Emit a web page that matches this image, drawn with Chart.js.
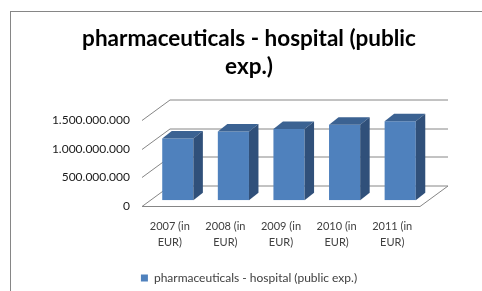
<!DOCTYPE html>
<html>
<head>
<meta charset="utf-8">
<script src="https://cdn.jsdelivr.net/npm/chart.js@4.4.1/dist/chart.umd.min.js"></script>
<style>
  html, body { margin: 0; padding: 0; background: #fff; overflow: hidden; }
  #wrap { width: 482px; height: 291px; overflow: hidden; }
</style>
</head>
<body>
<div id="wrap"><canvas id="hospitalChart" width="498" height="312"></canvas></div>
<script>
// dados
const categories = [['2007 (in', 'EUR)'], ['2008 (in', 'EUR)'], ['2009 (in', 'EUR)'], ['2010 (in', 'EUR)'], ['2011 (in', 'EUR)']];
const seriesName = 'pharmaceuticals - hospital (public exp.)';
const seriesValues = [1075000000, 1200000000, 1240000000, 1315000000, 1375000000];
const yTickValues = [0, 500000000, 1000000000, 1500000000];
const titleLines = ['pharmaceuticals - hospital (public', 'exp.)'];

// efeito 3D (estilo Excel)
const wallDepth = { x: 28, y: -20.5 };
const barShift = { x: 8, y: -5.8 };
const barDepth = { x: 9.5, y: -7.5 };
const gridColor = '#868686';

function formatDots(v) {
    return String(v).replace(/\B(?=(\d{3})+(?!\d))/g, '.');
}

const box3d = {
    id: 'box3d',
    beforeDraw(chart) {
        const ctx = chart.ctx;
        ctx.save();
        ctx.fillStyle = '#fff';
        ctx.fillRect(0, 0, chart.width, chart.height);
        ctx.strokeStyle = gridColor;
        ctx.lineWidth = 1;
        ctx.strokeRect(10.5, 11.5, chart.width, chart.height);
        ctx.restore();
    },
    beforeDatasetsDraw(chart) {
        const ctx = chart.ctx;
        const a = chart.chartArea;
        const y = chart.scales.y;
        ctx.save();
        ctx.strokeStyle = gridColor;
        ctx.lineWidth = 1;
        yTickValues.forEach(v => {
            const py = Math.round(y.getPixelForValue(v)) + 0.5;
            ctx.beginPath();
            ctx.moveTo(a.left, py);
            ctx.lineTo(a.left + wallDepth.x, py + wallDepth.y);
            ctx.lineTo(a.right + wallDepth.x, py + wallDepth.y);
            if (v === 0) {
                ctx.lineTo(a.right, py);
                ctx.lineTo(a.left, py);
            }
            ctx.stroke();
        });
        ctx.restore();
        ctx.save();
        ctx.translate(barShift.x, barShift.y);
    },
    afterDatasetsDraw(chart) {
        const ctx = chart.ctx;
        chart.getDatasetMeta(0).data.forEach(bar => {
            const p = bar.getProps(['x', 'y', 'base', 'width'], true);
            const l = p.x - p.width / 2, r = p.x + p.width / 2;
            ctx.fillStyle = '#3b6292';
            ctx.beginPath();
            ctx.moveTo(l, p.y);
            ctx.lineTo(l + barDepth.x, p.y + barDepth.y);
            ctx.lineTo(r + barDepth.x, p.y + barDepth.y);
            ctx.lineTo(r, p.y);
            ctx.closePath();
            ctx.fill();
            ctx.fillStyle = '#30507a';
            ctx.beginPath();
            ctx.moveTo(r, p.y);
            ctx.lineTo(r + barDepth.x, p.y + barDepth.y);
            ctx.lineTo(r + barDepth.x, p.base + barDepth.y);
            ctx.lineTo(r, p.base);
            ctx.closePath();
            ctx.fill();
        });
        ctx.restore();
    }
};

new Chart(document.getElementById('hospitalChart'), {
    type: 'bar',
    data: {
        labels: categories,
        datasets: [{
            label: seriesName,
            data: seriesValues,
            backgroundColor: '#4f81bd',
            borderWidth: 0,
            barPercentage: 0.56,
            categoryPercentage: 1
        }]
    },
    options: {
        responsive: false,
        animation: false,
        events: [],
        layout: { padding: { top: 10, left: 10, right: 10, bottom: 18 } },
        plugins: {
            title: {
                display: true,
                text: titleLines,
                color: '#000',
                font: { family: 'Lato', size: 22.5, weight: 'bold', lineHeight: 28 / 22.5 },
                padding: { top: 15, bottom: 39 }
            },
            legend: {
                position: 'bottom',
                labels: {
                    boxWidth: 7,
                    boxHeight: 7,
                    padding: 9,
                    color: '#404040',
                    font: { family: 'Lato', size: 12 }
                }
            },
            tooltip: { enabled: false }
        },
        scales: {
            x: {
                grid: { display: false, drawTicks: false },
                border: { display: false },
                ticks: {
                    color: '#404040',
                    padding: 12,
                    maxRotation: 0,
                    font: { family: 'Lato', size: 11, lineHeight: 1.5 }
                }
            },
            y: {
                min: 0,
                max: 1500000000,
                grid: { display: false, drawTicks: false },
                border: { display: false },
                afterFit(s) { s.width = 132; },
                afterBuildTicks(s) { s.ticks = yTickValues.map(v => ({ value: v })); },
                ticks: {
                    color: '#1a1a1a',
                    padding: 12,
                    font: { family: 'Lato', size: 12 },
                    callback: v => formatDots(v)
                }
            },
            right: {
                type: 'linear',
                position: 'right',
                grid: { display: false, drawTicks: false },
                border: { display: false },
                ticks: { display: false },
                afterFit(s) { s.width = 68; }
            }
        }
    },
    plugins: [box3d]
});
</script>
</body>
</html>
